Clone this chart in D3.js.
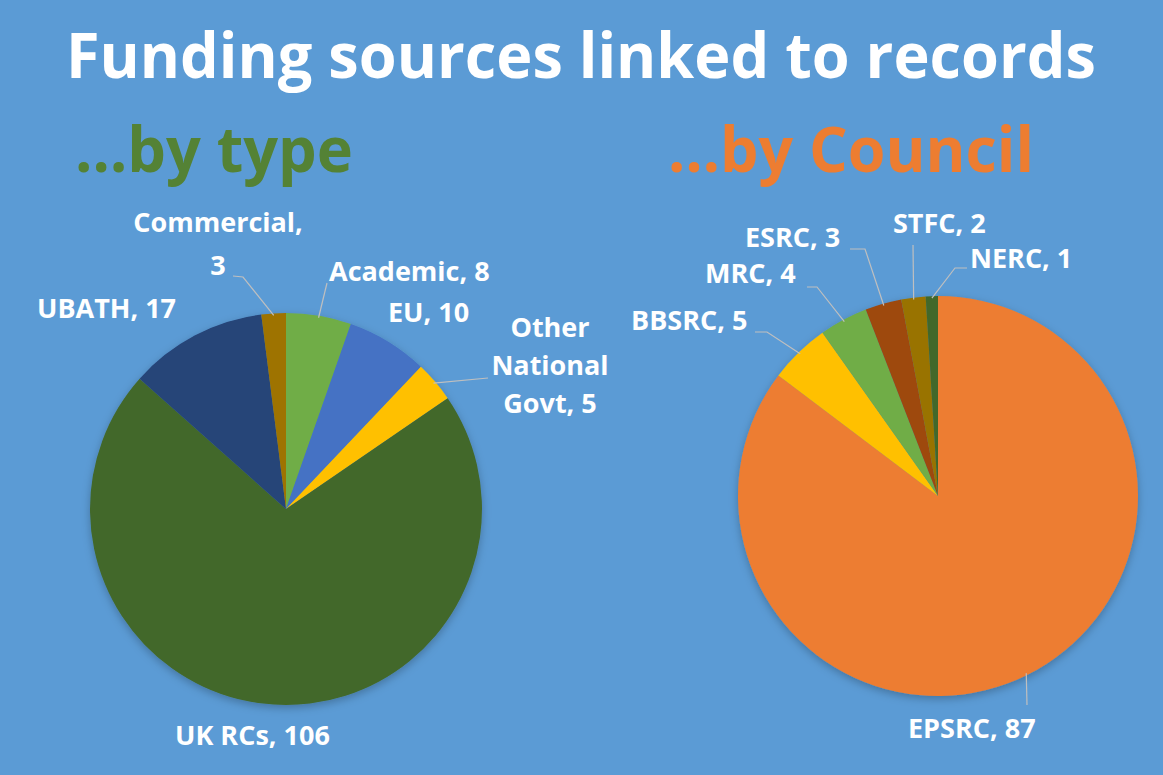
<!DOCTYPE html>
<html>
<head>
<meta charset="utf-8">
<script src="https://cdn.jsdelivr.net/npm/d3@7"></script>
<style>
  html, body { margin: 0; padding: 0; background: #5B9BD5; }
  svg { display: block; }
  text { font-family: "Open Sans", "Noto Sans", sans-serif; font-weight: 700; }
</style>
</head>
<body>
<svg id="chart" width="1163" height="775"></svg>
<script>
// ---- Data ----
const typeCategories = ["Academic", "EU", "Other National Govt", "UK RCs", "UBATH", "Commercial"];
const typeValues     = [8, 10, 5, 106, 17, 3];
const councilCategories = ["EPSRC", "BBSRC", "MRC", "ESRC", "STFC", "NERC"];
const councilValues     = [87, 5, 4, 3, 2, 1];

// ---- Styles / layout ----
const typeColors    = ["#70AD47", "#4472C4", "#FFC000", "#43682B", "#264478", "#9E7300"];
const councilColors = ["#ED7D31", "#FFC000", "#70AD47", "#9E480E", "#997300", "#43682B"];

const W = 1163, H = 775;
const svg = d3.select("#chart");
svg.append("rect").attr("width", W).attr("height", H).attr("fill", "#5B9BD5");

const defs = svg.append("defs");
const f = defs.append("filter").attr("id", "shadow").attr("x", "-20%").attr("y", "-20%").attr("width", "140%").attr("height", "140%");
f.append("feDropShadow").attr("dx", 0).attr("dy", 3).attr("stdDeviation", 4).attr("flood-color", "#000").attr("flood-opacity", 0.25);

// Title
svg.append("text").attr("x", 581).attr("y", 78).attr("text-anchor", "middle")
  .attr("font-size", 62).attr("fill", "#FFFFFF")
  .attr("textLength", 1030).attr("lengthAdjust", "spacingAndGlyphs")
  .text("Funding sources linked to records");
svg.append("text").attr("x", 75).attr("y", 172)
  .attr("font-size", 62).attr("fill", "#548235")
  .attr("textLength", 278).attr("lengthAdjust", "spacingAndGlyphs")
  .text("…by type");
svg.append("text").attr("x", 668).attr("y", 172)
  .attr("font-size", 62).attr("fill", "#ED7D31")
  .attr("textLength", 366).attr("lengthAdjust", "spacingAndGlyphs")
  .text("…by Council");

function drawPie(cx, cy, r, cats, vals, colors, labels) {
  const data = cats.map((c, i) => ({ cat: c, value: vals[i], color: colors[i] }));
  const pie = d3.pie().sort(null).value(d => d.value);
  const arc = d3.arc().innerRadius(0).outerRadius(r);
  const arcs = pie(data);
  const g = svg.append("g").attr("transform", `translate(${cx},${cy})`);
  g.append("g").attr("filter", "url(#shadow)")
    .selectAll("path").data(arcs).join("path")
    .attr("d", arc).attr("fill", d => d.data.color);

  arcs.forEach((a, i) => {
    const L = labels[i];
    const mid = (a.startAngle + a.endAngle) / 2;
    const ex = Math.sin(mid) * (r - 2), ey = -Math.cos(mid) * (r - 2);
    if (L.leader) {
      const pts = [[ex, ey]].concat(L.leader.map(p => [p[0] - cx, p[1] - cy]));
      g.append("path").attr("d", d3.line()(pts.reverse()))
        .attr("fill", "none").attr("stroke", "#BFBFBF").attr("stroke-width", 1.2);
    }
    const t = g.append("text").attr("fill", "#FFFFFF").attr("font-size", 27)
      .attr("text-anchor", L.anchor || "start");
    const lines = L.lines || [a.data.cat + ", " + a.data.value];
    lines.forEach((ln, k) => {
      t.append("tspan").attr("x", L.x - cx).attr("y", L.y - cy + k * (L.lh || 38)).text(ln);
    });
  });
}

const typeLabels = [
  { x: 329, y: 281, leader: [[327, 283]] },
  { x: 388, y: 322 },
  { x: 550, y: 337, anchor: "middle", lines: ["Other", "National", "Govt, " + typeValues[2]], lh: 38, leader: [[488, 378]] },
  { x: 175, y: 745 },
  { x: 37, y: 318 },
  { x: 218, y: 232, anchor: "middle", lines: ["Commercial,", String(typeValues[5])], lh: 43, leader: [[243, 277], [233, 276]] }
];
drawPie(286, 509, 196, typeCategories, typeValues, typeColors, typeLabels);

const councilLabels = [
  { x: 908, y: 738, leader: [[1027, 705]] },
  { x: 631, y: 330, leader: [[767, 332], [755, 332]] },
  { x: 705, y: 283, leader: [[817, 287], [807, 287]] },
  { x: 745, y: 247, leader: [[865, 249], [850, 249]] },
  { x: 893, y: 233, leader: [[913, 245]] },
  { x: 970, y: 268, leader: [[955, 268], [967, 268]] }
];
drawPie(938, 496, 200, councilCategories, councilValues, councilColors, councilLabels);
</script>
</body>
</html>
